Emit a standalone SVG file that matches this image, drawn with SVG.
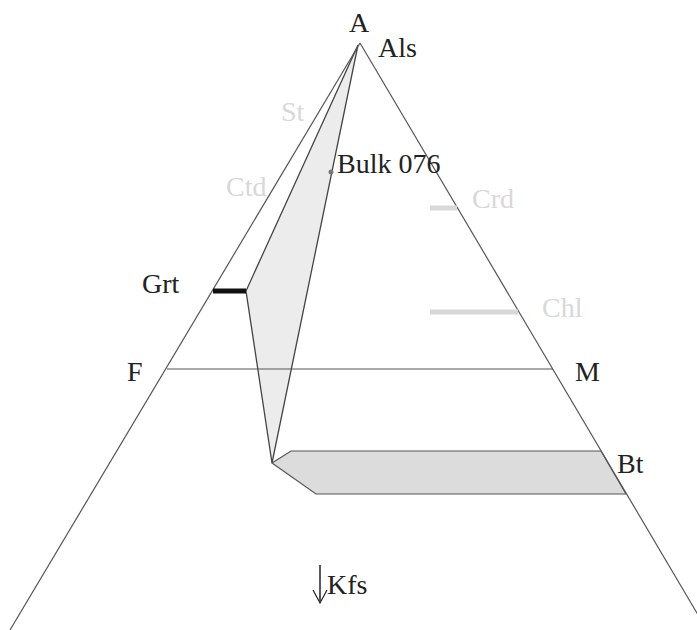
<svg xmlns="http://www.w3.org/2000/svg" width="697" height="630" viewBox="0 0 697 630">
<style>
text{font-family:"Liberation Serif","Times New Roman",serif;font-size:28px;fill:#222}
.lt{fill:#d8d8d8}
.edge{stroke:#555;stroke-width:1.2;fill:none}
</style>
<rect width="697" height="630" fill="#fff"/>
<g id="shaded">
<polygon points="358,45 246,291 272,463" fill="#ececec" stroke="#444" stroke-width="1.3"/>
<polygon points="272,463 291,451 601,451 626,494 316,494" fill="#dcdcdc" stroke="#555" stroke-width="1.2"/>
</g>
<g id="connectors">
<line class="edge" x1="360" y1="43" x2="10" y2="630"/>
<line class="edge" x1="360" y1="43" x2="707" y2="630"/>
<line class="edge" x1="167" y1="369" x2="553" y2="369"/>
<line x1="213" y1="291" x2="246" y2="291" stroke="#111" stroke-width="5"/>
<line x1="430" y1="208" x2="457" y2="208" stroke="#d8d8d8" stroke-width="5"/>
<line x1="430" y1="312" x2="518" y2="312" stroke="#d8d8d8" stroke-width="5"/>
<line x1="320" y1="565" x2="320" y2="601" stroke="#222" stroke-width="1.5"/>
<path d="M313,590 L320,603 L327,590" fill="none" stroke="#222" stroke-width="1.2"/>
<circle cx="331" cy="172" r="2.5" fill="#777"/>
</g>
<g id="labels">
<text x="349" y="32">A</text>
<text x="378" y="57">Als</text>
<text class="lt" x="281" y="121">St</text>
<text class="lt" x="226" y="196">Ctd</text>
<text x="337" y="173">Bulk 076</text>
<text class="lt" x="472" y="208">Crd</text>
<text class="lt" x="542" y="317">Chl</text>
<text x="142" y="293">Grt</text>
<text x="127" y="381">F</text>
<text x="575" y="381">M</text>
<text x="617" y="473">Bt</text>
<text x="327" y="594">Kfs</text>
</g>
</svg>
